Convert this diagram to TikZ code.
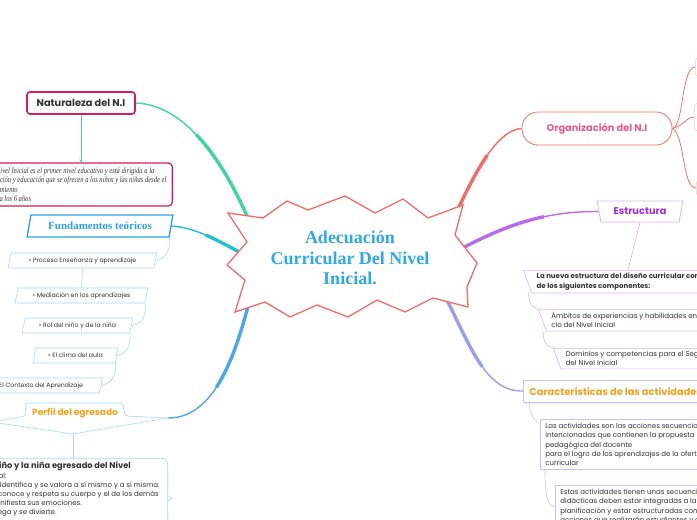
\documentclass[tikz,border=0pt]{standalone}
\usepackage{fontspec}
\usepackage{tikz}
\usetikzlibrary{shapes.geometric,arrows.meta,shadows}

\newfontfamily\popf{Poppins}
\newfontfamily\timesf{Liberation Serif}
\newfontfamily\handf{Liberation Serif}[FakeStretch=0.8]

\definecolor{crim}{HTML}{D81B5A}
\definecolor{mint}{HTML}{3DD6A0}
\definecolor{tealb}{HTML}{1EC3CF}
\definecolor{skyb}{HTML}{4BA5F2}
\definecolor{paleb}{HTML}{A9D3F7}
\definecolor{fundb}{HTML}{2A9FE6}
\definecolor{rootb}{HTML}{2EA8EA}
\definecolor{salm}{HTML}{F46A66}
\definecolor{orgred}{HTML}{F47070}
\definecolor{orgtxt}{HTML}{EA5B8C}
\definecolor{purp}{HTML}{B66CEA}
\definecolor{palep}{HTML}{DDB0F7}
\definecolor{purptxt}{HTML}{9A2FE0}
\definecolor{lav}{HTML}{9C9CF4}
\definecolor{palel}{HTML}{C4C4F7}
\definecolor{orng}{HTML}{F5A11F}
\definecolor{txtg}{HTML}{333333}

\begin{document}
\begin{tikzpicture}[x=1pt,y=-1pt,
    branch/.style={line width=1.4pt},
    thick end/.style 2 args={preaction={draw=#2,line width=3.4pt,dash pattern=on 0pt off #1 on 800pt off 10pt}},
    burst/.style={draw=salm,fill=white,line width=1.3pt},
    title node/.style={draw,fill=white,inner sep=0pt,font=\popf\bfseries\fontsize{9.8}{11}\selectfont},
    small text/.style={font=\popf\fontsize{7}{9.2}\selectfont,text=txtg,align=left},
    fund node/.style={trapezium,trapezium left angle=70,trapezium right angle=110,trapezium stretches=true,
        draw=paleb,fill=white,line width=0.6pt,inner sep=0pt,minimum height=15,small text,
        font=\popf\fontsize{6.2}{9.2}\selectfont},
    struct node/.style={trapezium,trapezium left angle=110,trapezium right angle=110,trapezium stretches=true,
        draw=palep,fill=white,line width=0.6pt,inner xsep=5pt,inner ysep=3pt,small text},
    act node/.style={rectangle,draw=palel,fill=white,line width=0.6pt,inner xsep=5pt,inner ysep=4pt,small text},
    org child/.style={draw=orgred!35,fill=white,rounded corners=6pt,line width=0.6pt,minimum width=30,inner sep=0pt},
    pale line/.style={draw=paleb,line width=0.6pt},
    purp line/.style={draw=palep,line width=0.6pt},
    lav line/.style={draw=palel,line width=0.6pt},
    org line/.style={draw=orgred,line width=0.8pt}]

    \useasboundingbox (0,0) rectangle (697,520);
    \clip (0,0) rectangle (697,520);
    \fill[white] (0,0) rectangle (697,520);

    % left side
    \node[title node,draw=crim,line width=1.6pt,rounded corners=3pt,text=txtg,minimum width=108,minimum height=22] (nat) at (81,103) {Naturaleza del N.I};
    \node[draw=crim,fill=white,line width=1.3pt,rounded corners=4pt,align=left,text=txtg,
        font=\handf\itshape\fontsize{8.2}{9.4}\selectfont,inner xsep=6pt,inner ysep=4pt,minimum height=43,anchor=east] (hand) at (173,184.5)
        {El Nivel Inicial es el primer nivel educativo y está dirigida a la\\
         atención y educación que se ofrecen a los niños y las niñas desde el\\
         nacimiento\\
         hasta los 6 años};

    \node[trapezium,trapezium left angle=70,trapezium right angle=110,trapezium stretches=true,
        draw=fundb,fill=white,line width=1.3pt,minimum width=146,minimum height=22,inner sep=0pt,
        text=fundb,font=\timesf\bfseries\fontsize{11}{13}\selectfont] (fund) at (100,226) {Fundamentos teóricos};
    \node[fund node,minimum width=149] (proc) at (82.5,260.5) {• Proceso Enseñanza y aprendizaje};
    \node[fund node,minimum width=133] (med) at (81.5,295.5) {• Mediación en los aprendizajes};
    \node[fund node,minimum width=111] (rol) at (77.5,325.5) {• Rol del niño y de la niña};
    \node[fund node,minimum width=85] (clima) at (75.5,355.5) {• El clima del aula};
    \node[fund node,minimum width=128] (ctx) at (39,385.5) {• El Contexto del Aprendizaje};

    \node[inner sep=0pt,text=orng,font=\popf\bfseries\fontsize{9}{10}\selectfont] (perf) at (75,413) {Perfil del egresado};
    \coordinate (perfr) at (168,418);
    \coordinate (perfv) at (73,434);
    \node[draw=paleb,fill=white,line width=0.6pt,rounded corners=6pt,small text,inner xsep=8pt,inner ysep=4pt,
        text depth=50pt,anchor=north east] (egr) at (168,458)
        {\bfseries\fontsize{8.3}{11}\selectfont El niño y la niña egresado del Nivel\\
         Inicial:\\
         \mdseries\fontsize{7}{9.2}\selectfont • Se identifica y se valora a sí mismo y a sí misma.\\
         • Reconoce y respeta su cuerpo y el de los demás\\
         • Manifiesta sus emociones.\\
         • Juega y se divierte.};
    \draw[pale line,fill=white] ([yshift=-38pt]egr.north east) -- ++(4,2) -- ++(-4,3);

    % right side
    \node[title node,draw=orgred,line width=0.8pt,rounded corners=16pt,text=orgtxt,minimum width=150,minimum height=33] (org) at (597,128.5) {Organización del N.I};
    \node[org child,minimum height=22,anchor=west] (orgA) at (695,67) {};
    \node[org child,minimum height=30,anchor=west] (orgB) at (694,117) {};
    \node[org child,minimum height=20,anchor=west] (orgC) at (696,188) {};

    \node[trapezium,trapezium left angle=110,trapezium right angle=110,trapezium stretches=true,
        title node,draw=palep,line width=0.8pt,text=purptxt,minimum width=86,minimum height=21] (estr) at (640,211.5) {Estructura};
    \node[struct node,anchor=top left corner,font=\popf\bfseries\fontsize{7}{9.2}\selectfont] (nueva) at (523,270)
        {La nueva estructura del diseño curricular consta\\ de los siguientes componentes:};
    \node[struct node,anchor=top left corner] (amb) at (538,309)
        {Ámbitos de experiencias y habilidades en el Primer Ci\\ clo del Nivel Inicial};
    \node[struct node,anchor=top left corner] (dom) at (553,348)
        {Dominios y competencias para el Segundo Ciclo\\ del Nivel Inicial};

    \node[title node,draw=palel,line width=0.8pt,text=orng,inner xsep=6pt,minimum height=22,anchor=west,
        drop shadow={shadow xshift=0.5pt,shadow yshift=-1.5pt,fill=palel!60}] (car) at (523,391)
        {Características de las actividades};
    \node[act node,anchor=north west] (act1) at (540,419)
        {Las actividades son las acciones secuenciadas e\\
         intencionadas que contienen la propuesta\\
         pedagógica del docente\\
         para el logro de los aprendizajes de la oferta\\
         curricular};
    \node[act node,anchor=north west] (act2) at (555,485)
        {Estas actividades tienen unas secuencias\\
         didácticas deben estar integradas a la\\
         planificación y estar estructuradas con las\\
         acciones que realizarán estudiantes y docentes};

    % main branches, drawn thin end first
    \draw[branch,mint,thick end={70pt}{mint}] (nat.east) .. controls (185,105) and (225,160) .. (255,235);
    \draw[branch,tealb,thick end={35pt}{tealb}] (fund.east) .. controls (200,228) and (225,245) .. (258,262);
    \draw[branch,skyb,thick end={60pt}{skyb}] (perfr) .. controls (205,418) and (230,380) .. (250,298);
    \draw[branch,salm,thick end={45pt}{salm}] (org.west) .. controls (500,130) and (480,160) .. (452,222);
    \draw[branch,purp,thick end={55pt}{purp}] (estr.west) .. controls (540,211) and (500,228) .. (455,252);
    \draw[branch,lav,thick end={50pt}{lav}] (car.west) .. controls (485,392) and (470,345) .. (443,292);

    \node[coordinate] (root) at (350,258) {};
    \draw[burst] (228,213) -- (263,218) -- (287,201) -- (308,210) -- (345,196) -- (375,213) -- (403,199)
        -- (428,218) -- (463,205) -- (455,235) -- (477,263) -- (467,287) -- (468,307) -- (433,298)
        -- (405,312) -- (377,300) -- (348,317) -- (317,305) -- (290,317) -- (265,302) -- (235,312)
        -- (245,280) -- (227,265) -- (247,242) -- cycle;
    \node[align=center,text=rootb,font=\timesf\bfseries\fontsize{18}{20.5}\selectfont] at (root)
        {Adecuación\\ Curricular Del Nivel\\ Inicial.};

    % sub connectors
    \draw[mint,line width=0.7pt,-{Stealth[length=3pt,width=3pt]}] (nat.south) -- (nat.south |- hand.north);
    \draw[pale line] (fund.bottom right corner) .. controls +(1,16) and +(8,-2) .. (proc.east);
    \draw[pale line] (proc.south) -- (med.north);
    \draw[pale line] (med.bottom right corner) .. controls +(1,18) and +(8,-2) .. (rol.east);
    \draw[pale line] (rol.bottom right corner) .. controls +(1,16) and +(8,-2) .. (clima.east);
    \draw[pale line] (clima.bottom right corner) .. controls +(1,16) and +(8,-2) .. (ctx.east);

    \draw[pale line,rounded corners=3pt] (-2,421) -- (26,416) -- (25,403) -- (123,403) -- (125,416) -- (perfr);
    \draw[pale line] (-2,423) -- (perfv) -- (perfr);
    \draw[pale line] (perfv) -- (perfv |- egr.north);

    \draw[org line] (org.east) .. controls (684,126) and (681,68) .. (orgA.west);
    \draw[org line] (org.east) .. controls (685,125) and (686,117) .. (orgB.west);
    \draw[org line] (org.east) .. controls (685,135) and (682,188) .. (orgC.west);

    \draw[purp line] (estr.south) -- ([xshift=105pt]nueva.top left corner);
    \draw[purp line] ([xshift=-3pt]nueva.bottom left corner) .. controls +(1,12) and +(-6,-2) .. (amb.top left corner);
    \draw[purp line] ([xshift=-3pt]amb.bottom left corner) .. controls +(0,12) and +(-6,-2) .. (dom.top left corner);

    \draw[lav line] ([xshift=6pt]car.south west) .. controls +(1,14) and +(-4,-1) .. ([yshift=-4pt]act1.north west);
    \draw[lav line] ([xshift=5pt]act1.south west) .. controls +(0,30) and +(-6,0) .. (act2.west);

\end{tikzpicture}
\end{document}
